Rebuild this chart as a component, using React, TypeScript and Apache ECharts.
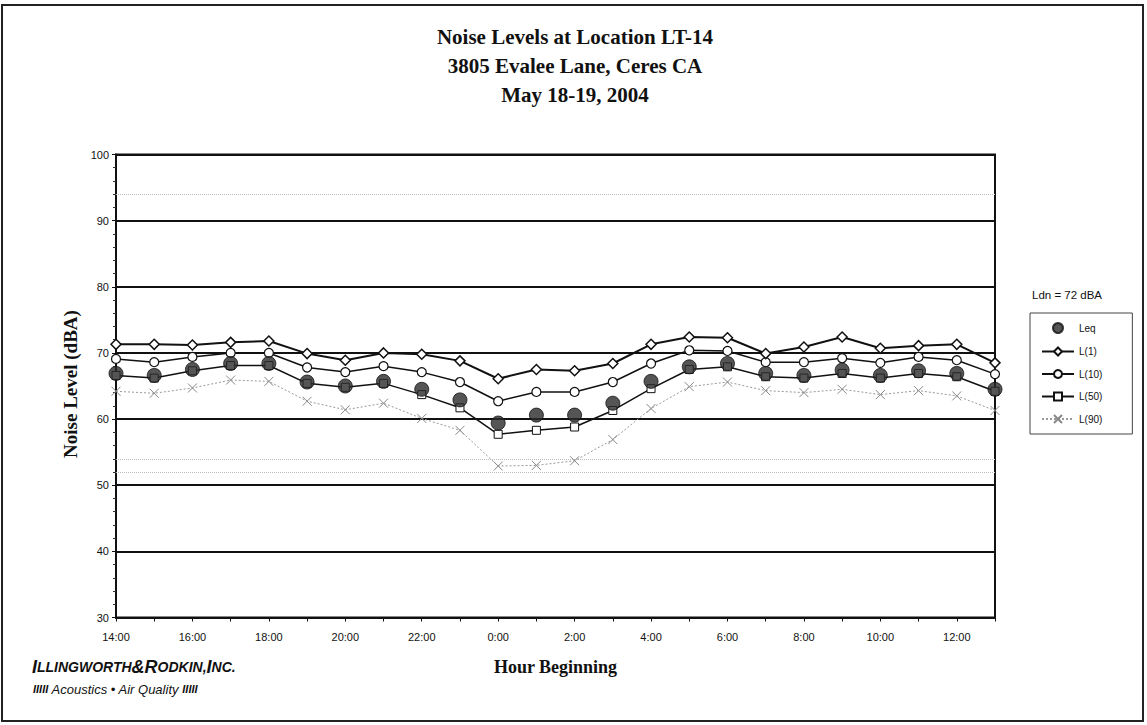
import React, { useEffect, useRef } from "react";
import * as echarts from "echarts";

const hours = [
  "14:00", "15:00", "16:00", "17:00", "18:00", "19:00", "20:00", "21:00",
  "22:00", "23:00", "0:00", "1:00", "2:00", "3:00", "4:00", "5:00",
  "6:00", "7:00", "8:00", "9:00", "10:00", "11:00", "12:00", "13:00",
];
const leq = [66.9, 66.6, 67.5, 68.4, 68.4, 65.6, 65.0, 65.7, 64.5, 62.9, 59.4, 60.6, 60.6, 62.4, 65.7, 67.9, 68.4, 66.9, 66.6, 67.4, 66.6, 67.3, 66.9, 64.5];
const l1 = [71.3, 71.3, 71.2, 71.6, 71.8, 69.9, 68.9, 70.0, 69.8, 68.8, 66.1, 67.5, 67.3, 68.4, 71.3, 72.4, 72.3, 69.9, 70.9, 72.4, 70.7, 71.1, 71.3, 68.5];
const l10 = [69.1, 68.6, 69.4, 70.0, 70.0, 67.8, 67.1, 68.0, 67.1, 65.6, 62.7, 64.1, 64.1, 65.6, 68.4, 70.4, 70.3, 68.6, 68.6, 69.2, 68.5, 69.4, 68.9, 66.8];
const l50 = [66.6, 66.2, 67.3, 68.1, 68.1, 65.4, 64.8, 65.4, 63.7, 61.7, 57.7, 58.3, 58.8, 61.3, 64.6, 67.5, 67.9, 66.4, 66.2, 66.9, 66.2, 66.9, 66.4, 64.2];
const l90 = [64.2, 63.9, 64.7, 65.9, 65.7, 62.7, 61.4, 62.4, 60.1, 58.3, 52.9, 53.0, 53.7, 56.9, 61.6, 64.9, 65.6, 64.3, 64.0, 64.5, 63.7, 64.3, 63.5, 61.3];
const faintLines = [94, 54, 52];

const titleLines = ["Noise Levels at Location LT-14", "3805 Evalee Lane, Ceres CA", "May 18-19, 2004"];
const ldnText = "Ldn = 72 dBA";

export default function App() {
  const ref = useRef<HTMLDivElement>(null);
  useEffect(() => {
    if (!ref.current) return;
    const chart = echarts.init(ref.current, null, { renderer: "svg" });
    const serif = "'Liberation Serif', 'Times New Roman', serif";
    const sans = "'Liberation Sans', Arial, sans-serif";
    chart.setOption({
      animation: false,
      backgroundColor: "#fff",
      grid: {
        left: 116, right: 152, top: 154.5, bottom: 107.5,
        show: true, borderColor: "#111", borderWidth: 2, containLabel: false,
      },
      legend: {
        orient: "vertical",
        left: 1030,
        top: 313,
        padding: [9, 30, 10, 11],
        borderColor: "#444",
        borderWidth: 1,
        itemWidth: 32,
        itemHeight: 10,
        itemGap: 12.5,
        textStyle: { fontFamily: sans, fontSize: 10, color: "#111" },
        data: ["Leq", "L(1)", "L(10)", "L(50)", "L(90)"],
      },
      xAxis: {
        type: "category",
        data: hours,
        boundaryGap: false,
        name: "Hour Beginning",
        nameLocation: "middle",
        nameGap: 40,
        nameTextStyle: { fontFamily: serif, fontWeight: "bold", fontSize: 18, color: "#111" },
        axisLine: { lineStyle: { color: "#111", width: 2 } },
        axisTick: { show: true, interval: 0, length: 4, lineStyle: { color: "#111" } },
        axisLabel: { interval: 1, fontFamily: sans, fontSize: 11, color: "#111", margin: 14 },
        splitLine: { show: false },
      },
      yAxis: {
        type: "value",
        min: 30,
        max: 100,
        interval: 10,
        axisLine: { show: true, lineStyle: { color: "#111", width: 2 } },
        axisTick: { show: true, length: 4, lineStyle: { color: "#111" } },
        minorTick: { show: true, splitNumber: 5, length: 3, lineStyle: { color: "#333" } },
        axisLabel: { fontFamily: sans, fontSize: 11, color: "#111", margin: 7 },
        splitLine: { show: true, lineStyle: { color: "#111", width: 2 } },
      },
      graphic: [
        {
          type: "rect",
          shape: { x: 2, y: 5, width: 1141, height: 716 },
          style: { fill: "none", stroke: "#222", lineWidth: 2 },
          silent: true,
        },
        ...titleLines.map((t, i) => ({
          type: "text",
          x: 575,
          y: 37 + i * 29,
          style: {
            text: t, fontFamily: serif, fontWeight: "bold", fontSize: 21,
            fill: "#111", align: "center", verticalAlign: "middle",
          },
        })),
        {
          type: "text",
          x: 70,
          y: 384,
          rotation: Math.PI / 2,
          style: {
            text: "Noise Level (dBA)", fontFamily: serif, fontWeight: "bold", fontSize: 19,
            fill: "#111", align: "center", verticalAlign: "middle",
          },
        },
        {
          type: "text",
          x: 1032,
          y: 295,
          style: { text: ldnText, fontFamily: sans, fontSize: 11.5, fill: "#111", verticalAlign: "middle" },
        },
        {
          type: "text",
          x: 32,
          y: 667,
          style: {
            text: "{a|I}{b|LLINGWORTH}{a|&}{a|R}{b|ODKIN,}{a|I}{b|NC.}",
            verticalAlign: "middle",
            rich: {
              a: { fontFamily: sans, fontWeight: 900, fontStyle: "italic", fontSize: 18, fill: "#111" },
              b: { fontFamily: sans, fontWeight: 900, fontStyle: "italic", fontSize: 14, fill: "#111" },
            },
          },
        },
        {
          type: "text",
          x: 33,
          y: 689,
          style: {
            text: "{c|IIIII} {d|Acoustics • Air Quality} {c|IIIII}",
            verticalAlign: "middle",
            rich: {
              c: { fontFamily: sans, fontWeight: "bold", fontStyle: "italic", fontSize: 11, fill: "#111" },
              d: { fontFamily: sans, fontStyle: "italic", fontSize: 13, fill: "#111" },
            },
          },
        },
      ],
      series: [
        {
          name: "L(90)",
          type: "line",
          data: l90,
          symbol: "path://M0,0L10,10M10,0L0,10",
          symbolSize: 9,
          lineStyle: { color: "#999", width: 1, type: [2, 2] },
          itemStyle: { color: "#888", borderColor: "#888", borderWidth: 1 },
          z: 2,
          markLine: {
            silent: true,
            symbol: "none",
            label: { show: false },
            lineStyle: { color: "#bbb", width: 1, type: "dotted" },
            data: faintLines.map((v) => ({ yAxis: v })),
          },
        },
        {
          name: "L(50)",
          type: "line",
          data: l50,
          symbol: "rect",
          symbolSize: 8,
          lineStyle: { color: "#111", width: 1.5 },
          itemStyle: { color: "#fff", borderColor: "#111", borderWidth: 1 },
          z: 3,
        },
        {
          name: "L(10)",
          type: "line",
          data: l10,
          symbol: "circle",
          symbolSize: 9,
          showAllSymbol: true,
          lineStyle: { color: "#111", width: 1.5 },
          itemStyle: { color: "#fff", borderColor: "#111", borderWidth: 1.2 },
          z: 4,
        },
        {
          name: "L(1)",
          type: "line",
          data: l1,
          symbol: "diamond",
          symbolSize: 10,
          lineStyle: { color: "#111", width: 2 },
          itemStyle: { color: "#fff", borderColor: "#111", borderWidth: 1.5 },
          z: 5,
        },
        {
          name: "Leq",
          type: "scatter",
          data: leq,
          symbol: "circle",
          symbolSize: 14,
          itemStyle: { color: "#2a2a2a", borderColor: "#111", borderWidth: 1 },
          z: 6,
        },
      ],
    });
    return () => chart.dispose();
  }, []);
  return (
    <div
      ref={ref}
      style={{ position: "fixed", left: 0, top: 0, width: 1147, height: 725, background: "#fff" }}
    />
  );
}
